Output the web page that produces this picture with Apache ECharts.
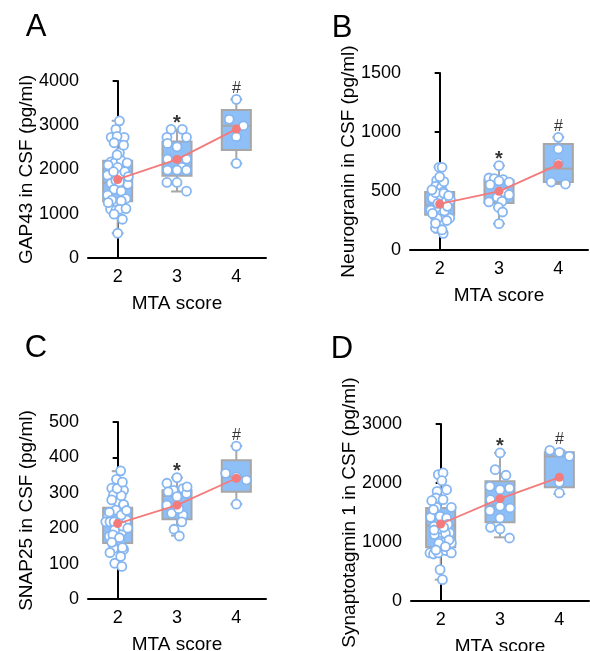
<!DOCTYPE html>
<html lang="en">
<head>
<meta charset="UTF-8">
<title>CSF synaptic markers by MTA score</title>
<script src="https://cdn.jsdelivr.net/npm/echarts@6/dist/echarts.min.js"></script>
<style>html,body{margin:0;padding:0;background:#fff;}</style>
</head>
<body>
<div id="main" style="width:590px;height:651px;"></div>
<script>
var cats = ['2', '3', '4'];
var marks = ['', '*', '#'];

// A: GAP43 -- box = [min, Q1, median, Q3, max] per MTA score
var aBox = [[559, 1283, 1698, 2196, 3101], [1503, 1857, 2227, 2635, 2900], [2136, 2439, 2989, 3344, 3585]];
var aMean = [1775, 2228, 2913];
var aVal2 = [3100, 2907, 2726, 2726, 2750, 2604, 2377, 2174, 2150, 2200, 2150, 2046, 1872, 1872, 1950, 1689, 1664, 1551, 1513, 1421, 1344, 1310, 1290, 1102, 1080, 1102, 1117, 876, 559, 2100, 2330, 2550, 1750, 1250, 1840, 1950, 1720, 990];
var aJit2 = [0.03, -0.03, -0.11, 0.11, -0.01, -0.06, 0.03, -0.11, -0.05, 0.06, 0.16, 0, -0.17, 0.06, 0.12, -0.11, 0.17, -0.06, 0.06, -0.17, 0.14, -0.10, 0.06, -0.12, -0.03, 0.03, 0.14, 0.08, 0, -0.16, -0.01, 0.10, -0.03, -0.16, 0.18, -0.07, 0.03, -0.06];
var aVal3 = [2907, 2907, 2726, 2726, 2590, 2513, 2235, 2235, 2050, 1986, 1986, 1986, 1707, 1707, 1510];
var aJit3 = [-0.10, 0.09, -0.17, 0.16, -0.16, 0, -0.16, 0.16, 0.08, -0.16, 0, 0.16, -0.17, 0, 0.16];
var aVal4 = [3586, 3133, 2989, 2740, 2137];
var aJit4 = [0, -0.12, 0.12, 0, 0];

// B: Neurogranin
var bBox = [[147, 299, 379, 492, 701], [223, 398, 560, 591, 715], [560, 576, 689, 898, 955]];
var bMean = [390, 497, 723];
var bVal2 = [701, 701, 590, 582, 540, 531, 492, 469, 455, 427, 412, 342, 356, 362, 299, 277, 271, 285, 243, 215, 172, 141, 186, 424, 438, 579, 486, 480, 339, 268, 226, 170, 620, 395, 330, 310, 250, 460, 510, 370];
var bJit2 = [-0.01, 0.04, -0.05, 0.04, -0.07, 0.03, 0.06, -0.05, 0.01, -0.11, 0.11, -0.17, -0.01, 0.10, 0.03, 0.14, 0.17, -0.08, -0.06, 0, 0.03, 0.06, -0.07, 0.18, -0.12, 0.07, -0.07, 0.07, -0.15, -0.04, -0.07, 0.04, 0, -0.03, 0.08, -0.12, 0.12, 0.15, -0.13, 0.13];
var bVal3 = [715, 610, 605, 596, 575, 585, 554, 492, 447, 412, 407, 362, 322, 223, 469];
var bJit3 = [0, -0.17, -0.08, 0.07, 0.17, 0, -0.15, 0.08, -0.03, 0.05, -0.17, -0.01, 0.06, 0, 0.17];
var bVal4 = [955, 856, 737, 576, 559];
var bJit4 = [0, 0, 0, -0.12, 0.12];

// C: SNAP25
var cBox = [[92, 158, 218, 258, 361], [179, 225, 291, 307, 343], [268, 303, 345, 392, 432]];
var cMean = [213, 265, 341];
var cVal2 = [362, 338, 313, 307, 294, 275, 265, 251, 234, 218, 218, 218, 218, 223, 190, 195, 177, 167, 143, 140, 131, 101, 92, 280, 267, 292, 245, 237, 206, 181, 173, 145, 312, 250, 330, 200, 160, 120];
var cJit2 = [0.05, -0.02, -0.10, 0.10, -0.07, 0.01, 0.10, -0.03, -0.16, -0.20, -0.13, -0.06, 0.04, 0.15, 0.07, -0.05, -0.14, 0.04, -0.07, 0.10, -0.13, -0.05, 0.07, -0.10, 0.10, 0.06, -0.14, 0.06, 0.08, -0.08, 0.03, 0.08, -0.01, 0.15, 0.08, 0.17, -0.10, 0.05];
var cVal3 = [343, 327, 307, 312, 298, 303, 289, 317, 265, 242, 237, 218, 197, 178, 255];
var cJit3 = [0, -0.17, -0.06, 0.10, 0.16, -0.15, 0, 0.17, -0.17, -0.09, 0.10, 0.08, -0.05, 0.04, 0.03];
var cVal4 = [432, 355, 345, 336, 268];
var cJit4 = [0, -0.18, 0, 0.17, 0];

// D: Synaptotagmin 1
var dBox = [[362, 910, 1277, 1576, 2170], [1079, 1333, 1620, 2028, 2509], [1814, 1927, 2452, 2520, 2550]];
var dMean = [1305, 1735, 2096];
var dVal2 = [2141, 2170, 2039, 1887, 1859, 1746, 1718, 1588, 1588, 1452, 1435, 1407, 1266, 1181, 1153, 1124, 1096, 1012, 1000, 983, 814, 797, 814, 853, 814, 531, 362, 1418, 1203, 1147, 1034, 978, 864, 921, 1300, 1550, 1700, 1250];
var dJit2 = [-0.04, 0.04, 0.02, 0.10, -0.06, -0.08, 0.04, -0.07, 0.18, -0.15, -0.01, 0.10, -0.11, -0.04, 0.15, -0.10, 0.04, -0.01, 0.07, 0.18, -0.18, -0.12, -0.04, 0.09, 0.18, -0.01, 0.03, -0.17, -0.11, 0.08, 0.14, -0.03, -0.08, 0.08, 0.12, -0.12, -0.15, 0.05];
var dVal3 = [2509, 2226, 2131, 1943, 1887, 1915, 1531, 1605, 1576, 1407, 1249, 1220, 1068, 1718];
var dJit3 = [0, -0.08, 0.10, -0.17, 0, 0.16, -0.17, 0, 0.17, 0, -0.16, 0, 0.16, -0.16];
var dVal4 = [2554, 2520, 2452, 2011, 1831];
var dJit4 = [-0.16, 0, 0.17, 0, 0];

var panels = [
  { tag: 'A', yName: 'GAP43 in CSF (pg/ml)', max: 4000, step: 1000, box: aBox, mean: aMean,
    pts: [[aVal2, aJit2], [aVal3, aJit3], [aVal4, aJit4]],
    grid: { left: 88, top: 81, width: 178, height: 177 }, letter: [36, 27] },
  { tag: 'B', yName: 'Neurogranin in CSF (pg/ml)', max: 1500, step: 500, box: bBox, mean: bMean,
    pts: [[bVal2, bJit2], [bVal3, bJit3], [bVal4, bJit4]],
    grid: { left: 410, top: 73, width: 178, height: 177 }, letter: [342, 28] },
  { tag: 'C', yName: 'SNAP25 in CSF (pg/ml)', max: 500, step: 100, box: cBox, mean: cMean,
    pts: [[cVal2, cJit2], [cVal3, cJit3], [cVal4, cJit4]],
    grid: { left: 88, top: 422, width: 178, height: 177 }, letter: [36, 348] },
  { tag: 'D', yName: 'Synaptotagmin 1 in CSF (pg/ml)', max: 3000, step: 1000, box: dBox, mean: dMean,
    pts: [[dVal2, dJit2], [dVal3, dJit3], [dVal4, dJit4]],
    grid: { left: 411, top: 424, width: 178, height: 177 }, letter: [342, 349] }
];

var FONT = 'Liberation Sans, Arial, Helvetica, sans-serif';
var BOX_FILL = '#8fbff7', BOX_LINE = '#a7a7a7';
var DOT_LINE = '#86b6f1', MEAN = '#f47b7b';

// how each significance mark is drawn
var markLabel = {
  '': { show: false },
  '*': { fontSize: 20, fontWeight: 'bold', distance: 0, offset: [0, 4] },
  '#': { fontSize: 16, distance: 2 }
};

function grayLine() { return { stroke: BOX_LINE, lineWidth: 2 }; }

function renderBox(params, api) {
  var x = api.value(0);
  var band = api.size([1, 0])[0];
  var half = band * 0.245, cap = band * 0.1;
  var pMin = api.coord([x, api.value(1)]);
  var pQ1 = api.coord([x, api.value(2)]);
  var pMed = api.coord([x, api.value(3)]);
  var pQ3 = api.coord([x, api.value(4)]);
  var pMax = api.coord([x, api.value(5)]);
  var cx = pMin[0];
  return {
    type: 'group',
    children: [
      { type: 'line', shape: { x1: cx, y1: pQ3[1], x2: cx, y2: pMax[1] }, style: grayLine() },
      { type: 'line', shape: { x1: cx, y1: pQ1[1], x2: cx, y2: pMin[1] }, style: grayLine() },
      { type: 'line', shape: { x1: cx - cap, y1: pMax[1], x2: cx + cap, y2: pMax[1] }, style: grayLine() },
      { type: 'line', shape: { x1: cx - cap, y1: pMin[1], x2: cx + cap, y2: pMin[1] }, style: grayLine() },
      { type: 'rect', shape: { x: cx - half, y: pQ3[1], width: half * 2, height: pQ1[1] - pQ3[1] },
        style: { fill: BOX_FILL, stroke: BOX_LINE, lineWidth: 2 } },
      { type: 'line', shape: { x1: cx - half, y1: pMed[1], x2: cx + half, y2: pMed[1] }, style: grayLine() }
    ]
  };
}

var grids = [], xAxes = [], yAxes = [], series = [], graphics = [];

panels.forEach(function (p, k) {
  grids.push(Object.assign({ containLabel: false, outerBoundsMode: 'none' }, p.grid));
  xAxes.push({
    type: 'category', gridIndex: k, data: cats, boundaryGap: true,
    name: 'MTA score', nameLocation: 'middle', nameGap: 36,
    nameTextStyle: { fontSize: 19, color: '#000', fontFamily: FONT },
    axisLine: { lineStyle: { color: '#000', width: 2 } },
    axisTick: { show: false },
    axisLabel: { fontSize: 18, color: '#000', margin: 10, fontFamily: FONT }
  });
  xAxes.push({ type: 'value', gridIndex: k, min: -0.5, max: 2.5, show: false });
  yAxes.push({
    type: 'value', gridIndex: k, min: 0, max: p.max, interval: p.step,
    name: p.yName, nameLocation: 'middle', nameGap: 52, nameRotate: 90, nameMoveOverlap: false,
    nameTextStyle: { fontSize: 19, color: '#000', fontFamily: FONT },
    splitLine: { show: false },
    axisLine: { show: true, lineStyle: { color: '#000', width: 2 } },
    axisTick: { show: true, length: 5, lineStyle: { color: '#000', width: 2 } },
    axisLabel: { fontSize: 18, color: '#000', margin: 9, fontFamily: FONT,
      formatter: function (v) { return String(v); } }
  });

  series.push({
    type: 'custom', xAxisIndex: 2 * k, yAxisIndex: k, z: 1,
    renderItem: renderBox,
    encode: { x: 0, y: [1, 2, 3, 4, 5] },
    data: p.box.map(function (b, i) { return [i].concat(b); })
  });

  p.pts.forEach(function (g, i) {
    series.push({
      type: 'scatter', xAxisIndex: 2 * k + 1, yAxisIndex: k, z: 2,
      symbol: 'circle', symbolSize: 9,
      itemStyle: { color: '#fff', borderColor: DOT_LINE, borderWidth: 1.8, opacity: 1 },
      data: g[0].map(function (v, j) { return [i + g[1][j], v]; })
    });
  });

  series.push({
    type: 'line', xAxisIndex: 2 * k, yAxisIndex: k, z: 3,
    data: p.mean, symbol: 'circle', symbolSize: 9, showSymbol: true,
    itemStyle: { color: MEAN, borderWidth: 0 }, lineStyle: { color: MEAN, width: 1.8 }
  });

  series.push({
    type: 'scatter', xAxisIndex: 2 * k, yAxisIndex: k, z: 4,
    symbol: 'circle', symbolSize: 1,
    itemStyle: { color: 'rgba(0,0,0,0)' },
    label: { show: true, position: 'top', color: '#000', fontFamily: FONT,
      formatter: function (o) { return marks[o.dataIndex]; } },
    data: p.box.map(function (b, i) {
      return { value: [i, b[4]], label: markLabel[marks[i]] };
    })
  });

  graphics.push({
    type: 'text', x: p.letter[0], y: p.letter[1],
    style: { text: p.tag, fontSize: 31, fill: '#000', fontFamily: FONT, align: 'center', verticalAlign: 'middle' }
  });
});

var myChart = echarts.init(document.getElementById('main'), null, { renderer: 'canvas' });
myChart.setOption({
  animation: false,
  backgroundColor: '#fff',
  textStyle: { fontFamily: FONT },
  graphic: graphics,
  grid: grids,
  xAxis: xAxes,
  yAxis: yAxes,
  series: series
});
</script>
</body>
</html>
